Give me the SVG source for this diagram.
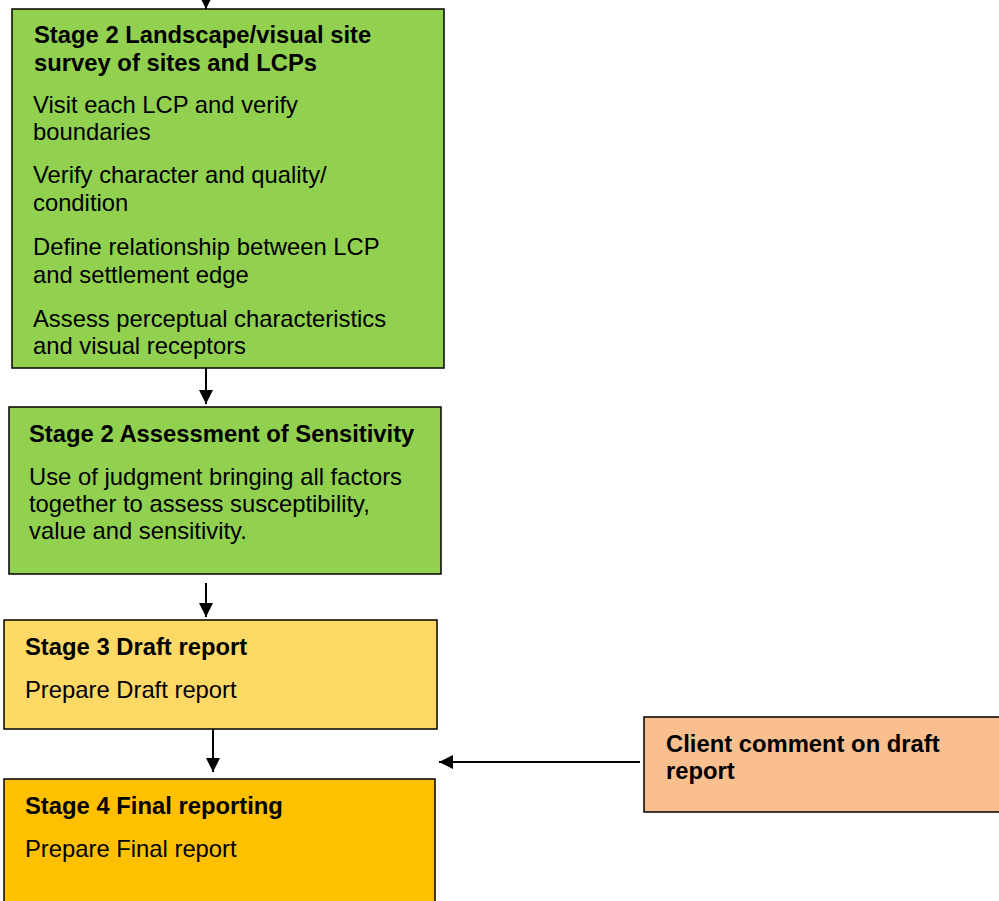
<svg xmlns="http://www.w3.org/2000/svg" width="999" height="901" viewBox="0 0 999 901">
<style>
  .box { stroke: #000; stroke-width: 1.5; }
  .t { font-family: "Liberation Sans", Arial, sans-serif; font-size: 23.8px; fill: #000; }
  .b { font-weight: bold; }
  .conn { stroke: #000; stroke-width: 2; fill: none; marker-end: url(#ah); }
</style>
<defs>
  <marker id="ah" markerWidth="7" markerHeight="7" refX="7" refY="3.5" orient="auto" markerUnits="strokeWidth">
    <path d="M0,0 L7,3.5 L0,7 Z" fill="#000"/>
  </marker>
</defs>
<rect width="999" height="901" fill="#fff"/>
<g id="connectors">
  <line class="conn" x1="206" y1="0" x2="206" y2="9"/>
  <line class="conn" x1="206" y1="368" x2="206" y2="404"/>
  <line class="conn" x1="206" y1="583" x2="206" y2="617"/>
  <line class="conn" x1="213" y1="729" x2="213" y2="772"/>
  <line class="conn" x1="640" y1="762" x2="439" y2="762"/>
</g>
<g id="stage2-survey">
  <rect class="box" x="12" y="9" width="432" height="359" fill="#92D050"/>
  <text class="t b" x="34" y="43">Stage 2 Landscape/visual site</text>
  <text class="t b" x="34" y="71">survey of sites and LCPs</text>
  <text class="t" x="33" y="113">Visit each LCP and verify</text>
  <text class="t" x="33" y="140">boundaries</text>
  <text class="t" x="33" y="183">Verify character and quality/</text>
  <text class="t" x="33" y="211">condition</text>
  <text class="t" x="33" y="255">Define relationship between LCP</text>
  <text class="t" x="33" y="283">and settlement edge</text>
  <text class="t" x="33" y="327">Assess perceptual characteristics</text>
  <text class="t" x="33" y="354">and visual receptors</text>
</g>
<g id="stage2-sensitivity">
  <rect class="box" x="9" y="407" width="432" height="167" fill="#92D050"/>
  <text class="t b" x="29" y="442">Stage 2 Assessment of Sensitivity</text>
  <text class="t" x="29" y="485">Use of judgment bringing all factors</text>
  <text class="t" x="29" y="512">together to assess susceptibility,</text>
  <text class="t" x="29" y="539">value and sensitivity.</text>
</g>
<g id="stage3">
  <rect class="box" x="4" y="620" width="433" height="109" fill="#FFD966"/>
  <text class="t b" x="25" y="655">Stage 3 Draft report</text>
  <text class="t" x="25" y="698">Prepare Draft report</text>
</g>
<g id="stage4">
  <rect class="box" x="4" y="779" width="431" height="130" fill="#FFC000"/>
  <text class="t b" x="25" y="814">Stage 4 Final reporting</text>
  <text class="t" x="25" y="857">Prepare Final report</text>
</g>
<g id="client">
  <rect class="box" x="644" y="717" width="360" height="95" fill="#F9BF8F"/>
  <text class="t b" x="666" y="752">Client comment on draft</text>
  <text class="t b" x="666" y="779">report</text>
</g>
</svg>
